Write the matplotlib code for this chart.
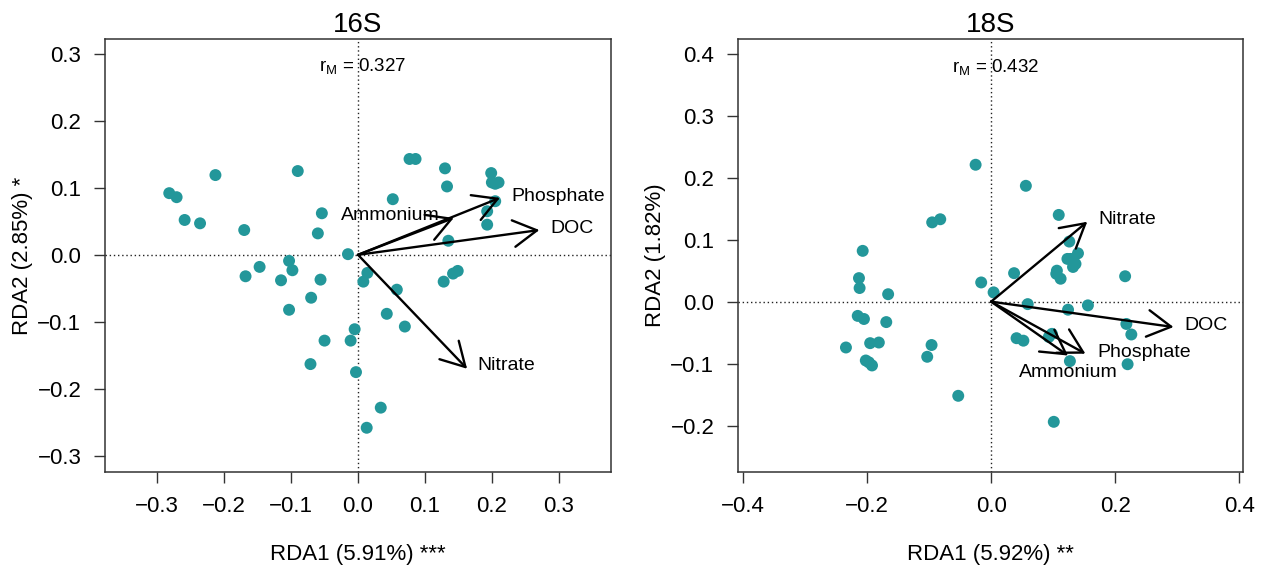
import numpy as np
import matplotlib
matplotlib.use("Agg")
import matplotlib.pyplot as plt

plt.rcParams['font.family'] = ['Liberation Sans', 'DejaVu Sans']
plt.rcParams['mathtext.fontset'] = 'custom'
plt.rcParams['mathtext.rm'] = 'Liberation Sans'

# ---- 16S sites ----
x16 = [-0.282, -0.271, -0.259, -0.236, -0.213, -0.170, -0.090, -0.054, -0.060, -0.015,
       -0.168, -0.147, -0.103, -0.098, -0.115, -0.056, -0.070, -0.103, -0.050, -0.011,
       -0.005, -0.071, -0.003, 0.034, 0.013, 0.014, 0.008, 0.058, 0.043, 0.070,
       0.128, 0.142, 0.149, 0.135, 0.052, 0.077, 0.086, 0.130, 0.133, 0.199,
       0.200, 0.205, 0.210, 0.193, 0.205, 0.193]
y16 = [0.092, 0.086, 0.052, 0.047, 0.119, 0.037, 0.125, 0.062, 0.032, 0.001,
       -0.032, -0.018, -0.009, -0.023, -0.038, -0.037, -0.064, -0.082, -0.128, -0.128,
       -0.111, -0.163, -0.175, -0.228, -0.258, -0.027, -0.040, -0.052, -0.088, -0.107,
       -0.040, -0.028, -0.024, 0.021, 0.083, 0.143, 0.143, 0.129, 0.102, 0.122,
       0.108, 0.106, 0.108, 0.065, 0.080, 0.045]
vars16 = ['Phosphate', 'Ammonium', 'DOC', 'Nitrate']
ax16 = [0.212, 0.143, 0.271, 0.163]
ay16 = [0.085, 0.055, 0.037, -0.170]
lx16 = [0.2995, 0.049, 0.320, 0.222]
ly16 = [0.0876, 0.059, 0.039, -0.165]

# ---- 18S sites ----
x18 = [-0.025, 0.056, 0.109, -0.095, -0.082, -0.207, -0.213, -0.212, -0.166, -0.016,
       0.004, 0.037, 0.126, 0.140, 0.123, 0.128, 0.136, 0.132, 0.106, 0.105,
       0.112, 0.216, 0.059, 0.124, 0.156, 0.218, 0.226, 0.220, 0.127, 0.098,
       0.093, 0.041, 0.052, 0.101, -0.053, -0.096, -0.103, -0.169, -0.215, -0.205,
       -0.195, -0.181, -0.234, -0.202, -0.197, -0.192]
y18 = [0.221, 0.187, 0.140, 0.128, 0.133, 0.082, 0.038, 0.022, 0.012, 0.031,
       0.015, 0.046, 0.097, 0.078, 0.069, 0.069, 0.061, 0.056, 0.050, 0.045,
       0.037, 0.041, -0.004, -0.013, -0.006, -0.036, -0.053, -0.101, -0.096, -0.052,
       -0.057, -0.059, -0.063, -0.194, -0.152, -0.070, -0.089, -0.033, -0.023, -0.028,
       -0.067, -0.066, -0.074, -0.095, -0.098, -0.103]
vars18 = ['Nitrate', 'DOC', 'Phosphate', 'Ammonium']
ax18 = [0.155, 0.294, 0.152, 0.124]
ay18 = [0.129, -0.041, -0.084, -0.087]
lx18 = [0.220, 0.346, 0.246, 0.124]
ly18 = [0.132, -0.039, -0.082, -0.115]

panels = [
    dict(title='16S', x=x16, y=y16, vars=vars16, ax=ax16, ay=ay16, lx=lx16, ly=ly16,
         rm='0.327', xlab='RDA1 (5.91%) ***', ylab='RDA2 (2.85%) *',
         xlim=(-0.378, 0.378), ylim=(-0.324, 0.322),
         xt=np.arange(-0.3, 0.31, 0.1), yt=np.arange(-0.3, 0.31, 0.1), rmy=0.281),
    dict(title='18S', x=x18, y=y18, vars=vars18, ax=ax18, ay=ay18, lx=lx18, ly=ly18,
         rm='0.432', xlab='RDA1 (5.92%) **', ylab='RDA2 (1.82%)',
         xlim=(-0.408, 0.406), ylim=(-0.275, 0.424),
         xt=np.arange(-0.4, 0.41, 0.2), yt=np.arange(-0.2, 0.41, 0.1), rmy=0.378),
]


def fmt(v):
    if abs(v) < 1e-9:
        return '0.0'
    s = '%.1f' % abs(v)
    return ('\u2212' + s) if v < 0 else s


W, H = 1263, 571
fig = plt.figure(figsize=(W / 100, H / 100), dpi=100)
lefts = [105, 738]
widths = [506, 505]

for i, p in enumerate(panels):
    ax = fig.add_axes([lefts[i] / W, (H - 472) / H, widths[i] / W, 433 / H])
    ax.axhline(0, color='#222222', lw=1.0, ls=(0, (1, 2)), zorder=1)
    ax.axvline(0, color='#222222', lw=1.0, ls=(0, (1, 2)), zorder=1)
    ax.scatter(p['x'], p['y'], s=74, color='#23979A', edgecolors='none', zorder=2)
    for name, tx, ty, lx, ly in zip(p['vars'], p['ax'], p['ay'], p['lx'], p['ly']):
        ax.annotate('', xy=(tx, ty), xytext=(0, 0),
                    arrowprops=dict(arrowstyle='->,head_length=0.85,head_width=0.48',
                                    mutation_scale=20, lw=1.7, color='black',
                                    shrinkA=0, shrinkB=0), zorder=3)
        ax.text(lx, ly, name, fontsize=14, ha='center', va='center', zorder=4)
    ax.text(0.007, p['rmy'], r'$\mathregular{r_M}$ = ' + p['rm'], fontsize=13.5,
            ha='center', va='center')
    ax.set_xlim(p['xlim'])
    ax.set_ylim(p['ylim'])
    ax.set_xticks(p['xt'])
    ax.set_yticks(p['yt'])
    ax.set_xticklabels([fmt(v) for v in p['xt']], fontsize=16)
    ax.set_yticklabels([fmt(v) for v in p['yt']], fontsize=16)
    ax.tick_params(direction='out', length=8, width=1.0, pad=9, color='#333333')
    for s in ax.spines.values():
        s.set_linewidth(1.1)
        s.set_color('#333333')
    ax.set_title(p['title'], fontsize=20, pad=5)
    ax.set_xlabel(p['xlab'], fontsize=16, va='center')
    ax.xaxis.set_label_coords(0.5, -0.19)
    ax.set_ylabel(p['ylab'], fontsize=16, va='center')
    ax.yaxis.set_label_coords(-0.164, 0.5)

plt.savefig('out.png', dpi=100)
